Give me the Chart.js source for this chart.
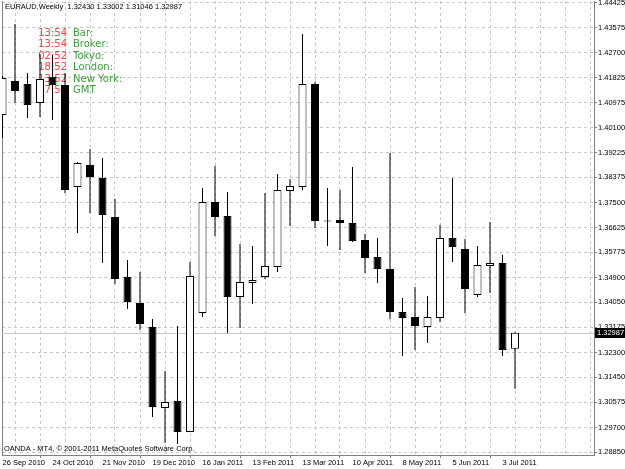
<!DOCTYPE html>
<html>
<head>
<meta charset="utf-8">
<title>EURAUD,Weekly</title>
<script src="https://cdn.jsdelivr.net/npm/chart.js@4.4.1/dist/chart.umd.min.js"></script>
<style>
  html, body { margin: 0; padding: 0; background: #fff; }
  canvas { display: block; }
</style>
</head>
<body>
<canvas id="candles" width="625" height="469"></canvas>
<script>
// Weekly EURAUD bars, 26 Sep 2010 .. 10 Jul 2011 (one per week)
const open = [1.40540, 1.41719, 1.41615, 1.40956, 1.41858, 1.41580, 1.38042, 1.38805, 1.38354, 1.37001,
              1.34920, 1.34018, 1.33185, 1.30376, 1.30618, 1.29543, 1.33671, 1.37522, 1.37036, 1.34226,
              1.34712, 1.34920, 1.35267, 1.37903, 1.38042, 1.41615, 1.36880, 1.36897, 1.36793, 1.36204,
              1.35614, 1.35198, 1.33706, 1.33532, 1.33185, 1.33498, 1.36273, 1.35891, 1.34296, 1.35302,
              1.35406, 1.32430];
const high = [1.41893, 1.43697, 1.41997, 1.42656, 1.42621, 1.41997, 1.38909, 1.39360, 1.39048, 1.37626,
              1.35510, 1.35093, 1.33463, 1.31659, 1.33220, 1.35440, 1.38007, 1.38771, 1.37869, 1.36065,
              1.35995, 1.37834, 1.38493, 1.38320, 1.43350, 1.41685, 1.38007, 1.37938, 1.38736, 1.36412,
              1.36273, 1.39222, 1.34191, 1.34573, 1.34261, 1.36724, 1.38354, 1.36238, 1.35995, 1.36828,
              1.35683, 1.33002];
const low = [1.39742, 1.40956, 1.40436, 1.40470, 1.40366, 1.37834, 1.36446, 1.37140, 1.35406, 1.34677,
             1.33810, 1.33081, 1.30063, 1.29162, 1.29127, 1.29543, 1.33532, 1.36342, 1.32977, 1.33151,
             1.33983, 1.34851, 1.35093, 1.36689, 1.37938, 1.36620, 1.35995, 1.35857, 1.36134, 1.35059,
             1.34712, 1.33463, 1.32180, 1.32388, 1.32630, 1.33359, 1.35440, 1.33671, 1.34226, 1.34365,
             1.32180, 1.31046];
const close = [1.41823, 1.41372, 1.40887, 1.41789, 1.41580, 1.37938, 1.38875, 1.38389, 1.37071, 1.34851,
               1.34053, 1.33290, 1.30410, 1.30584, 1.29543, 1.34955, 1.37522, 1.37001, 1.34226, 1.34747,
               1.34816, 1.35302, 1.37938, 1.38077, 1.41615, 1.36863, 1.36846, 1.36793, 1.36169, 1.35579,
               1.35198, 1.33706, 1.33498, 1.33220, 1.33532, 1.36273, 1.35961, 1.34504, 1.35336, 1.35406,
               1.32388, 1.32987];

// time axis labels, one every 4 weeks
const dateLabels = ['26 Sep 2010', '24 Oct 2010', '21 Nov 2010', '19 Dec 2010', '16 Jan 2011', '13 Feb 2011',
                    '13 Mar 2011', '10 Apr 2011', '8 May 2011', '5 Jun 2011', '3 Jul 2011'];
// price scale levels (right axis)
const priceTicks = [1.28850, 1.29700, 1.30575, 1.31450, 1.32300, 1.33175, 1.34050, 1.34900, 1.35775, 1.36625,
                    1.37500, 1.38375, 1.39225, 1.40100, 1.40975, 1.41825, 1.42700, 1.43575, 1.44425];

// clock indicator
const clockTimes = ['13:54', '13:54', '02:52', '18:52', '13:52', '17:52'];
const clockNames = ['Bar:', 'Broker:', 'Tokyo:', 'London:', 'New York:', 'GMT'];

const symbolName = 'EURAUD,Weekly';
const copyright = 'OANDA - MT4, \u00a9 2001-2011 MetaQuotes Software Corp.';

const smallFont = { family: "'Liberation Sans', Arial, sans-serif", size: 7.5 };
const last = close.length - 1;

// grid every 2 weeks, labels every 4
const gridWeeks = [];
for (let w = 0; w <= 46; w += 2) gridWeeks.push(w);

const overlay = {
    id: 'overlay',
    beforeDatasetsDraw(chart) {
        const ctx = chart.ctx, area = chart.chartArea;
        const py = Math.round(chart.scales.y.getPixelForValue(close[last])) + 0.5;
        ctx.save();
        // current price line
        ctx.strokeStyle = '#c8c8cc';
        ctx.lineWidth = 1;
        ctx.beginPath();
        ctx.moveTo(area.left, py);
        ctx.lineTo(area.right, py);
        ctx.stroke();
        // clock text, candles paint over it
        ctx.font = '10px "DejaVu Sans"';
        ctx.textBaseline = 'middle';
        clockTimes.forEach((t, i) => {
            const ty = 33 + i * 11.5;
            ctx.fillStyle = '#ff4040';
            ctx.textAlign = 'right';
            ctx.fillText(t, 67, ty);
            ctx.fillStyle = '#3c9f3c';
            ctx.textAlign = 'left';
            ctx.fillText(clockNames[i], 73, ty);
        });
        ctx.restore();
    },
    afterDraw(chart) {
        const ctx = chart.ctx, area = chart.chartArea;
        const py = chart.scales.y.getPixelForValue(close[last]);
        ctx.save();
        ctx.font = "7.5px 'Liberation Sans', Arial, sans-serif";
        ctx.textBaseline = 'middle';
        ctx.textAlign = 'left';
        ctx.fillStyle = '#000';
        const ohlc = [open[last], high[last], low[last], close[last]].map(v => v.toFixed(5)).join(' ');
        ctx.fillText(symbolName + '  ' + ohlc, 5, 7);
        ctx.fillText(copyright, 4, 449);
        // price tag on the axis
        ctx.fillStyle = '#000';
        ctx.fillRect(area.right + 1, Math.round(py) - 5, 31, 10);
        ctx.fillStyle = '#fff';
        ctx.fillText(close[last].toFixed(5), area.right + 3, Math.round(py));
        ctx.restore();
    }
};

const ctx = document.getElementById('candles').getContext('2d');
const candleChart = new Chart(ctx, {
    type: 'bar',
    data: {
        datasets: [{
            label: 'wick',
            data: open.map((o, i) => ({ x: i, y: [low[i], high[i]] })),
            backgroundColor: '#000000',
            borderWidth: 0,
            barThickness: 1,
            inflateAmount: 0,
            grouped: false,
            order: 2
        }, {
            label: 'body',
            data: open.map((o, i) => ({ x: i, y: [o, close[i]] })),
            backgroundColor: open.map((o, i) => close[i] >= o ? '#ffffff' : '#000000'),
            borderColor: '#000000',
            borderWidth: 1,
            borderSkipped: false,
            barThickness: 8,
            inflateAmount: 0,
            grouped: false,
            order: 1
        }]
    },
    options: {
        responsive: false,
        animation: false,
        devicePixelRatio: 1,
        layout: { padding: { top: 1, left: 0, right: 0, bottom: 0 }, autoPadding: false },
        plugins: { legend: { display: false }, tooltip: { enabled: false } },
        scales: {
            x: {
                type: 'linear',
                min: -0.04,
                max: 47.32,
                bounds: 'data',
                offset: false,
                afterBuildTicks: s => { s.ticks = gridWeeks.map(v => ({ value: v })); },
                afterFit: s => { s.height = 14; s.paddingLeft = 0; s.paddingRight = 0; },
                ticks: {
                    autoSkip: false,
                    maxRotation: 0,
                    minRotation: 0,
                    align: 'start',
                    padding: 0,
                    color: '#000',
                    font: smallFont,
                    callback: v => (v % 4 === 0 && v / 4 < dateLabels.length) ? dateLabels[v / 4] : ''
                },
                grid: {
                    color: '#c8c8c8',
                    tickLength: 3,
                    tickBorderDash: [],
                    tickColor: c => (c.tick && c.tick.value % 4 === 0 && c.tick.value / 4 < dateLabels.length) ? '#808080' : 'rgba(0,0,0,0)'
                },
                border: { color: '#808080', dash: [3, 3] }
            },
            y: {
                type: 'linear',
                position: 'right',
                min: 1.28746,
                max: 1.44494,
                bounds: 'data',
                afterBuildTicks: s => { s.ticks = priceTicks.map(v => ({ value: v })); },
                afterFit: s => { s.width = 31; s.paddingTop = 0; s.paddingBottom = 0; },
                ticks: {
                    autoSkip: false,
                    padding: 1,
                    color: '#000',
                    font: smallFont,
                    callback: v => v.toFixed(5)
                },
                grid: { color: '#c8c8c8', tickColor: '#808080', tickLength: 3, tickBorderDash: [] },
                border: { color: '#808080', dash: [3, 3] }
            },
            yl: {
                type: 'linear',
                position: 'left',
                afterFit: s => { s.width = 2; s.paddingTop = 0; s.paddingBottom = 0; },
                ticks: { display: false },
                grid: { display: false },
                border: { color: '#808080' }
            }
        }
    },
    plugins: [overlay]
});
</script>
</body>
</html>
